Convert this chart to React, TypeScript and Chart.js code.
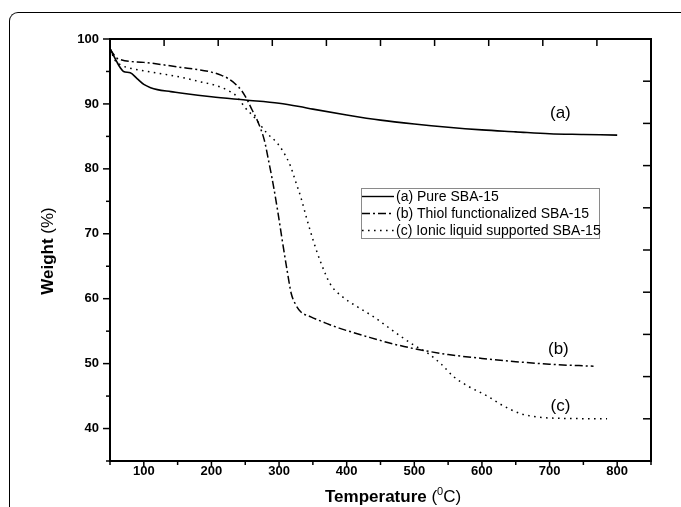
import React, { useEffect, useRef } from 'react';
import { Chart, registerables } from 'chart.js';

Chart.register(...registerables);

// ---- data (temperature in °C, weight in %) ----
const tempA = [50, 55, 60, 65, 70, 80, 90, 100, 110, 120, 140, 160, 200, 250, 300, 330, 350, 400, 450, 500, 550, 600, 650, 700, 750, 800];
const weightA = [98.5, 97.5, 96.5, 95.6, 95.0, 94.8, 93.9, 93.0, 92.5, 92.2, 91.9, 91.6, 91.1, 90.6, 90.1, 89.6, 89.2, 88.3, 87.5, 86.9, 86.4, 86.0, 85.7, 85.4, 85.3, 85.2];

const tempB = [50, 55, 61, 100, 150, 200, 215, 225, 235, 245, 253, 260, 268, 278, 285, 292, 298, 305, 312, 318, 324, 332, 347, 370, 388, 400, 435, 470, 500, 550, 600, 650, 700, 765];
const weightB = [98.5, 97.7, 97.0, 96.4, 95.7, 94.9, 94.4, 93.9, 93.1, 92.0, 90.6, 89.1, 87.4, 84.5, 81.0, 77.2, 73.5, 68.8, 64.3, 60.8, 59.2, 58.0, 57.2, 56.2, 55.5, 55.1, 54.0, 53.0, 52.3, 51.4, 50.8, 50.3, 49.9, 49.6];

const tempC = [50, 57, 66, 80, 100, 135, 160, 184, 205, 224, 235, 243, 250, 263, 282, 297, 307, 317, 324, 332, 341, 351, 362, 376, 395, 415, 440, 460, 480, 500, 520, 540, 558, 580, 608, 630, 657, 680, 706, 785];
const weightC = [98.5, 96.8, 96.0, 95.5, 95.1, 94.5, 94.0, 93.4, 92.9, 92.1, 91.4, 90.4, 89.4, 88.0, 85.5, 84.0, 82.5, 80.4, 78.2, 75.7, 72.3, 68.8, 65.5, 62.2, 60.2, 58.8, 57.2, 55.7, 54.2, 52.8, 51.6, 49.9, 48.0, 46.5, 45.0, 43.6, 42.3, 41.8, 41.6, 41.5];

const seriesNames = ['(a) Pure SBA-15', '(b) Thiol functionalized SBA-15', '(c) Ionic liquid supported SBA-15'];
const curveTags = ['(a)', '(b)', '(c)'];
const tagTemps = [716, 713, 716];
const tagWeights = [88.6, 52.2, 43.4];

const xMin = 50, xMax = 850, xStep = 50, xMajor = 100;
const yMin = 35, yMax = 100, yStep = 5, yMajor = 10;

const FAMILY = '"Liberation Sans", Arial, Helvetica, sans-serif';
const DASHES = [[], [8, 3, 2, 3], [1.6, 4.4]];

const toPoints = (xs: number[], ys: number[]) => xs.map((x, i) => ({ x, y: ys[i] }));

const decorPlugin = {
  id: 'decor',
  afterDraw(chart: any) {
    const ctx = chart.ctx as CanvasRenderingContext2D;
    const { left, right, top, bottom } = chart.chartArea;
    const xs = chart.scales.x;
    const ys = chart.scales.y;
    ctx.save();
    ctx.strokeStyle = '#000';
    ctx.lineWidth = 2;
    // mirror axes
    ctx.beginPath();
    ctx.moveTo(left - 1, top);
    ctx.lineTo(right, top);
    ctx.lineTo(right, bottom + 1);
    ctx.stroke();
    ctx.lineWidth = 1.5;
    // bottom ticks (outside)
    xs.ticks.forEach((t: any) => {
      const p = xs.getPixelForValue(t.value);
      const major = t.value % xMajor === 0;
      ctx.beginPath();
      ctx.moveTo(p, bottom);
      ctx.lineTo(p, bottom + (major ? 6 : 4));
      ctx.stroke();
    });
    // left ticks (outside)
    ys.ticks.forEach((t: any) => {
      const p = ys.getPixelForValue(t.value);
      const major = t.value % yMajor === 0;
      ctx.beginPath();
      ctx.moveTo(left, p);
      ctx.lineTo(left - (major ? 7 : 4), p);
      ctx.stroke();
    });
    // top & right ticks (inside, 10 equal divisions)
    for (let k = 1; k < 10; k++) {
      const px = left + ((right - left) * k) / 10;
      ctx.beginPath();
      ctx.moveTo(px, top);
      ctx.lineTo(px, top + 7);
      ctx.stroke();
      const py = top + ((bottom - top) * k) / 10;
      ctx.beginPath();
      ctx.moveTo(right, py);
      ctx.lineTo(right - 8, py);
      ctx.stroke();
    }

    // curve tags
    ctx.fillStyle = '#000';
    ctx.font = `17px ${FAMILY}`;
    ctx.textAlign = 'center';
    ctx.textBaseline = 'middle';
    curveTags.forEach((tag, i) => {
      ctx.fillText(tag, xs.getPixelForValue(tagTemps[i]), ys.getPixelForValue(tagWeights[i]));
    });

    // legend
    const lx = 361, ly = 188, lw = 238, lh = 50;
    ctx.strokeStyle = '#8a8a8a';
    ctx.lineWidth = 1;
    ctx.strokeRect(lx + 0.5, ly + 0.5, lw, lh);
    ctx.font = `14px ${FAMILY}`;
    ctx.textAlign = 'left';
    chart.data.datasets.forEach((ds: any, i: number) => {
      const cy = ly + 8.5 + i * 17;
      ctx.save();
      ctx.strokeStyle = '#000';
      ctx.lineWidth = 1.4;
      ctx.setLineDash(ds.borderDash || []);
      ctx.beginPath();
      ctx.moveTo(lx + 1, cy);
      ctx.lineTo(lx + 33, cy);
      ctx.stroke();
      ctx.restore();
      ctx.fillText(ds.label, lx + 35, cy + 0.5);
    });

    // y-axis title
    ctx.save();
    ctx.translate(48, 251);
    ctx.rotate(-Math.PI / 2);
    ctx.textBaseline = 'middle';
    const boldY = `bold 17px ${FAMILY}`;
    const regY = `17px ${FAMILY}`;
    ctx.font = boldY;
    const w1 = ctx.measureText('Weight').width;
    ctx.font = regY;
    const w2 = ctx.measureText(' (%)').width;
    const sx = -(w1 + w2) / 2;
    ctx.font = boldY;
    ctx.fillText('Weight', sx, 0);
    ctx.font = regY;
    ctx.fillText(' (%)', sx + w1, 0);
    ctx.restore();

    // x-axis title
    const baseY = 502;
    let tx = 325;
    ctx.textBaseline = 'alphabetic';
    ctx.textAlign = 'left';
    ctx.font = `bold 17px ${FAMILY}`;
    ctx.fillText('Temperature', tx, baseY);
    tx += ctx.measureText('Temperature').width;
    ctx.font = `17px ${FAMILY}`;
    ctx.fillText(' (', tx, baseY);
    tx += ctx.measureText(' (').width;
    ctx.font = `11px ${FAMILY}`;
    ctx.fillText('0', tx, baseY - 7);
    tx += ctx.measureText('0').width;
    ctx.font = `17px ${FAMILY}`;
    ctx.fillText('C)', tx, baseY);
    ctx.restore();
  },
};

export default function App() {
  const canvasRef = useRef<HTMLCanvasElement | null>(null);

  useEffect(() => {
    if (!canvasRef.current) return;
    const series = [toPoints(tempA, weightA), toPoints(tempB, weightB), toPoints(tempC, weightC)];
    const chart = new Chart(canvasRef.current, {
      type: 'line',
      data: {
        datasets: series.map((pts, i) => ({
          label: seriesNames[i],
          data: pts,
          borderColor: '#000',
          borderWidth: i === 0 ? 1.6 : 1.5,
          borderDash: DASHES[i],
          pointRadius: 0,
          fill: false,
          cubicInterpolationMode: 'monotone' as const,
        })),
      },
      options: {
        responsive: false,
        animation: false,
        devicePixelRatio: 1,
        layout: { padding: { top: 39, right: 30, left: 0, bottom: 0 } },
        plugins: { legend: { display: false }, tooltip: { enabled: false } },
        scales: {
          x: {
            type: 'linear',
            min: xMin,
            max: xMax,
            grid: { display: false, drawTicks: false },
            border: { display: true, color: '#000', width: 2 },
            ticks: {
              stepSize: xStep,
              autoSkip: false,
              maxRotation: 0,
              padding: 3,
              color: '#000',
              font: { family: FAMILY, size: 13, weight: 'bold' },
              callback: (v: any) => (Number(v) % xMajor === 0 ? String(v) : ''),
            },
            afterFit: (s: any) => { s.height = 46; },
          },
          y: {
            type: 'linear',
            min: yMin,
            max: yMax,
            grid: { display: false, drawTicks: false },
            border: { display: true, color: '#000', width: 2 },
            ticks: {
              stepSize: yStep,
              autoSkip: false,
              padding: 11,
              color: '#000',
              font: { family: FAMILY, size: 13, weight: 'bold' },
              callback: (v: any) => (Number(v) % yMajor === 0 ? String(v) : ''),
            },
            afterFit: (s: any) => { s.width = 110; },
          },
        },
      },
      plugins: [decorPlugin],
    } as any);
    return () => chart.destroy();
  }, []);

  return (
    <div style={{ position: 'fixed', left: 0, top: 0, width: 681, height: 507, overflow: 'hidden', background: '#fff' }}>
      <div
        style={{
          position: 'absolute',
          left: 9,
          top: 12,
          width: 720,
          height: 540,
          borderTop: '1.5px solid #000',
          borderLeft: '1.5px solid #000',
          borderTopLeftRadius: 9,
        }}
      />
      <canvas ref={canvasRef} width={681} height={507} style={{ position: 'absolute', left: 0, top: 0 }} />
    </div>
  );
}
